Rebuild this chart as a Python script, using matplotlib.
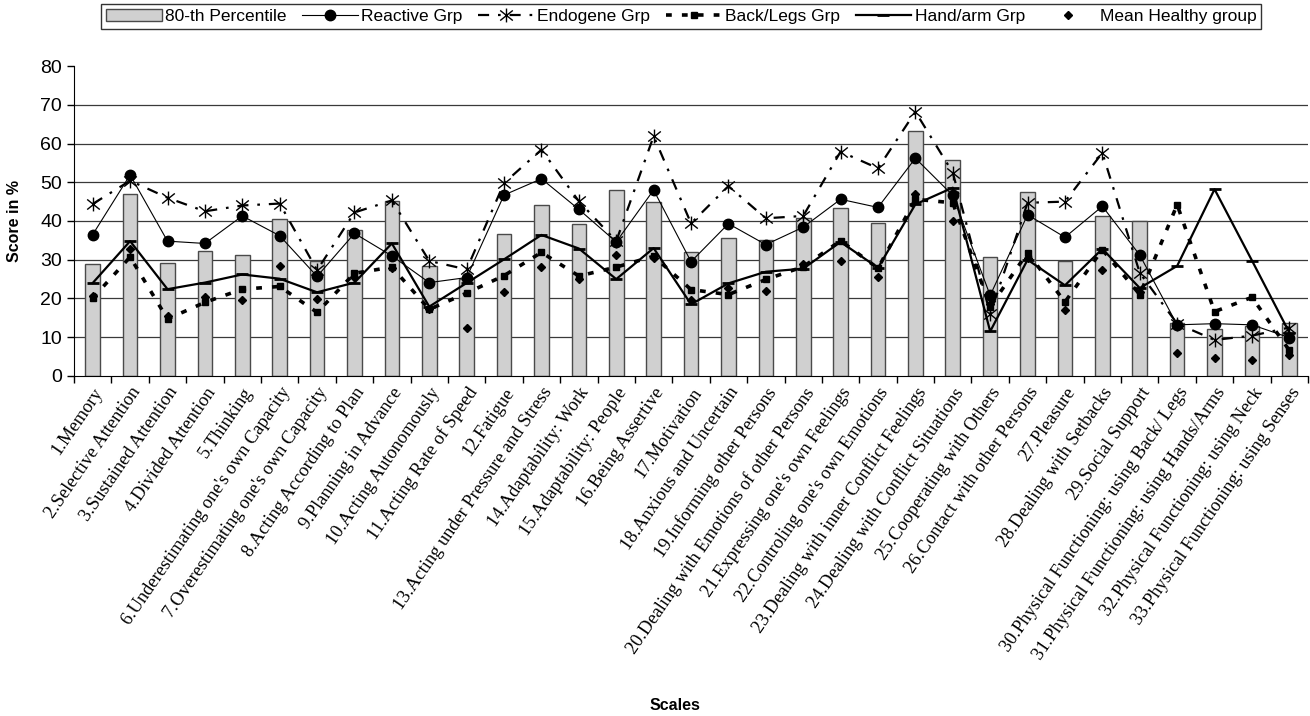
import matplotlib
matplotlib.use("Agg")
import matplotlib.pyplot as plt
import numpy as np
from matplotlib.path import Path
from matplotlib.patches import Patch
from matplotlib.lines import Line2D

scales = [
    "1.Memory", "2.Selective Attention", "3.Sustained Attention", "4.Divided Attention",
    "5.Thinking", "6.Underestimating one's own Capacity", "7.Overestimating one's own Capacity",
    "8.Acting According to Plan", "9.Planning in Advance", "10.Acting Autonomously",
    "11.Acting Rate of Speed", "12.Fatigue", "13.Acting under Pressure and Stress",
    "14.Adaptability: Work", "15.Adaptability: People", "16.Being Assertive", "17.Motivation",
    "18.Anxious and Uncertain", "19.Informing other Persons",
    "20.Dealing with Emotions of other Persons", "21.Expressing one's own Feelings",
    "22.Controling one's own Emotions", "23.Dealing with inner Conflict Feelings",
    "24.Dealing with Conflict Situations", "25.Cooperating with Others",
    "26.Contact with other Persons", "27.Pleasure", "28.Dealing with Setbacks",
    "29.Social Support", "30.Physical Functioning: using Back/ Legs",
    "31.Physical Functioning: using Hands/Arms", "32.Physical Functioning: using Neck",
    "33.Physical Functioning: using Senses",
]

pct80 = [28.9, 47.0, 29.1, 32.2, 31.1, 40.6, 29.8, 37.6, 45.1, 28.3, 25.1, 36.6, 44.2,
         39.2, 47.9, 45.0, 32.1, 35.7, 35.2, 40.8, 43.3, 39.5, 63.1, 55.7, 30.8, 47.6,
         29.7, 41.2, 40.0, 13.6, 12.1, 12.8, 13.6]
reactive = [36.5, 51.9, 34.8, 34.2, 41.3, 36.2, 25.7, 36.8, 31.0, 24.1, 25.4, 46.7, 50.9,
            43.0, 34.6, 48.0, 29.5, 39.3, 33.9, 38.4, 45.6, 43.5, 56.2, 46.6, 20.8, 41.6,
            35.8, 43.8, 31.2, 13.2, 13.5, 13.2, 9.9]
endogene = [44.4, 50.4, 46.0, 42.5, 44.0, 44.5, 27.3, 42.2, 45.3, 29.7, 27.5, 49.8, 58.4,
            45.1, 34.8, 61.9, 39.4, 49.0, 40.7, 41.3, 57.9, 53.6, 68.2, 52.5, 16.0, 44.7,
            45.0, 57.6, 26.6, 13.5, 9.3, 10.4, 12.5]
back_legs = [20.1, 30.7, 14.7, 19.0, 22.4, 23.1, 16.4, 26.5, 28.1, 17.2, 21.4, 25.9, 31.9,
             25.8, 28.1, 30.9, 22.3, 21.0, 24.9, 28.2, 34.9, 27.8, 45.6, 44.7, 17.9, 31.8,
             19.1, 32.6, 21.0, 44.2, 16.6, 20.3, 6.6]
hand_arm = [24.0, 34.8, 22.4, 24.1, 26.2, 25.1, 21.6, 24.1, 34.2, 17.9, 24.0, 30.1, 36.4,
            32.9, 25.0, 33.0, 18.5, 23.9, 26.9, 27.7, 34.6, 27.9, 44.3, 48.6, 11.5, 30.0,
            23.4, 32.8, 22.7, 28.4, 48.2, 29.8, 11.2]
healthy = [20.6, 32.9, 15.5, 20.3, 19.5, 28.5, 19.8, 25.6, 27.8, 17.4, 12.5, 21.7, 28.2,
           25.0, 31.3, 30.4, 19.6, 22.8, 22.0, 29.0, 29.6, 25.6, 47.0, 40.1, 18.5, 30.5,
           17.0, 27.4, 21.7, 6.0, 4.6, 4.0, 5.3]

plt.rcParams["font.family"] = ["Liberation Sans", "DejaVu Sans"]

# asterisk marker: an X crossed by a vertical bar
star = Path([(-1, -0.8), (1, 0.8), (-1, 0.8), (1, -0.8), (0, -1.1), (0, 1.1)],
            [Path.MOVETO, Path.LINETO, Path.MOVETO, Path.LINETO, Path.MOVETO, Path.LINETO])

fig = plt.figure(figsize=(13.1, 7.16), dpi=100)
ax = fig.add_axes([0.0565, 0.4749, 0.942, 0.4329])

x = np.arange(len(scales))
ax.bar(x, pct80, 0.39, color="#d0d0d0", edgecolor="#4a4a4a", linewidth=1, zorder=2)

ax.plot(x, reactive, color="black", lw=0.8, marker="o", ms=7.5, zorder=4)
ax.plot(x, endogene, color="black", lw=1.6, dashes=(5, 4, 1.2, 4), marker=star,
        ms=10, mew=1, mfc="none", zorder=3)
ax.plot(x, back_legs, color="black", lw=2.6, dashes=(1.6, 2.8), marker="s", ms=5,
        zorder=3)
ax.plot(x, hand_arm, color="black", lw=1.6, marker="_", ms=9, mew=2, zorder=3)
ax.plot(x, healthy, ls="none", color="black", marker="D", ms=4, zorder=5)

ax.set_xlim(-0.5, len(scales) - 0.5)
ax.set_ylim(0, 80)
ax.set_yticks(range(0, 81, 10))
ax.tick_params(axis="y", labelsize=14, direction="out", length=5, width=1)
for y in range(10, 80, 10):
    ax.axhline(y, color="#3a3a3a", lw=0.9, zorder=1)

ax.set_xticks(x)
ax.set_xticklabels(scales, rotation=55.5, ha="right", rotation_mode="anchor",
                   family="Liberation Serif", fontsize=13.2)
ax.tick_params(axis="x", length=0, pad=6)
ax.set_xticks(np.arange(-0.5, len(scales), 1.0), minor=True)
ax.tick_params(axis="x", which="minor", length=5, width=1, direction="out")

for s in ("top", "right"):
    ax.spines[s].set_visible(False)
ax.spines["left"].set_color("black")
ax.spines["bottom"].set_color("black")

fig.text(0.011, 0.6913, "Score in %", rotation=90, ha="center", va="center",
         fontsize=11.5, fontweight="bold")
fig.text(0.515, 0.015, "Scales", ha="center", va="center",
         fontsize=11.5, fontweight="bold")

handles = [
    Patch(facecolor="#d0d0d0", edgecolor="#4a4a4a"),
    Line2D([], [], color="black", lw=0.8, marker="o", ms=7.5),
    Line2D([], [], color="black", lw=1.6, dashes=(5, 4, 1.2, 4), marker=star, ms=10,
           mew=1, mfc="none"),
    Line2D([], [], color="black", lw=2.6, dashes=(1.6, 2.8), marker="s", ms=5),
    Line2D([], [], color="black", lw=1.6, marker="_", ms=9, mew=2),
    Line2D([], [], ls="none", color="black", marker="D", ms=4),
]
labels = ["80-th Percentile", "Reactive Grp", "Endogene Grp", "Back/Legs Grp",
          "Hand/arm Grp", "Mean Healthy group"]
leg = fig.legend(handles, labels, loc="center", bbox_to_anchor=(0.52, 0.977), ncol=6,
                 fontsize=12.5, frameon=True, fancybox=False, edgecolor="black",
                 handlelength=3.2, handletextpad=0.2, columnspacing=0.9,
                 borderpad=0.3)
leg.get_frame().set_linewidth(1)

fig.savefig("out.png", dpi=100)
